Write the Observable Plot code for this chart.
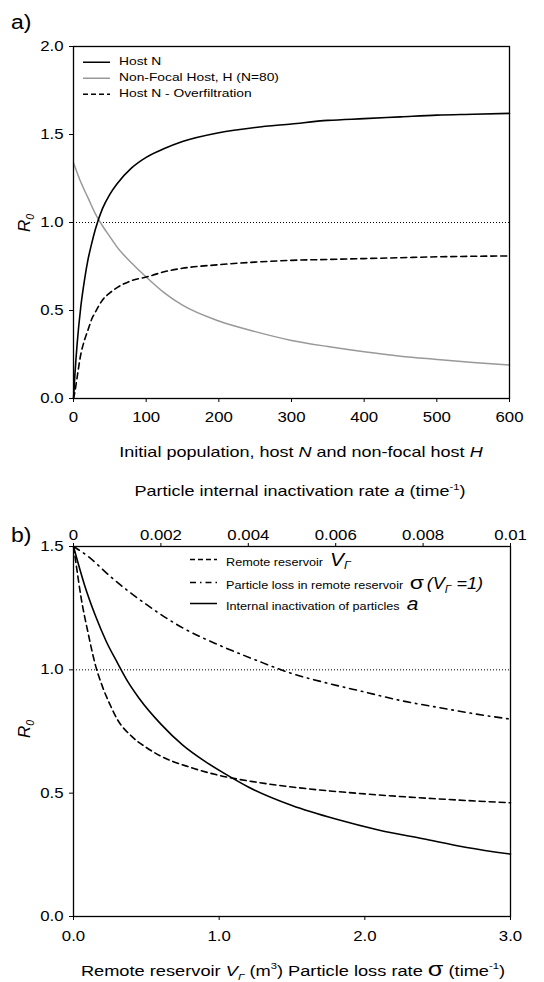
<!DOCTYPE html>
<html><head><meta charset="utf-8">
<script src="https://cdn.jsdelivr.net/npm/d3@7"></script>
<script src="https://cdn.jsdelivr.net/npm/@observablehq/plot@0.6"></script>
<style>
body{margin:0;background:#fff;}
#root{position:relative;width:544px;height:982px;font-family:"Liberation Sans",Arial,sans-serif;color:#000;overflow:hidden;}
.abs{position:absolute;white-space:nowrap;line-height:1;}
.c{transform:translate(-50%,-50%) scaleX(1.2);}
.fig{position:absolute;left:0;}
sup,sub{font-size:0.62em;line-height:0;}
.leg{position:absolute;white-space:nowrap;line-height:1;display:flex;align-items:center;transform:translateY(-50%);font-size:11.5px;}
.leg svg{margin-right:9px;}
.leg span{display:inline-block;transform:scaleX(1.2);transform-origin:left center;}
.leg.b span{transform:scaleX(1.1);}
</style></head><body><div id="root"></div>
<script>
// ---------- Panel a data ----------
const popN = [0, 2, 5, 10, 15, 20, 25, 30, 40, 50, 60, 80, 100, 125, 150, 200, 250, 300, 350, 400, 450, 500, 550, 600];
const hostN = [0, 0.14, 0.31, 0.52, 0.67, 0.79, 0.88, 0.96, 1.08, 1.16, 1.22, 1.31, 1.37, 1.42, 1.46, 1.51, 1.54, 1.56, 1.58, 1.59, 1.60, 1.61, 1.615, 1.62];
const hostNOverfilt = [0, 0.04, 0.12, 0.25, 0.33, 0.39, 0.45, 0.49, 0.56, 0.60, 0.63, 0.67, 0.69, 0.72, 0.74, 0.76, 0.775, 0.785, 0.79, 0.795, 0.80, 0.805, 0.808, 0.81];
const popH = [0, 10, 20, 30, 40, 50, 60, 80, 100, 125, 150, 200, 250, 300, 350, 400, 450, 500, 550, 600];
const nonFocalH = [1.34, 1.23, 1.14, 1.05, 0.98, 0.92, 0.86, 0.77, 0.69, 0.60, 0.53, 0.44, 0.38, 0.33, 0.295, 0.265, 0.24, 0.222, 0.205, 0.19];
const xTicksA = [0, 100, 200, 300, 400, 500, 600];
const yTicksA = [0, 0.5, 1.0, 1.5, 2.0];

// ---------- Panel b data ----------
const volV = [0, 0.02, 0.05, 0.1, 0.15, 0.2, 0.25, 0.3, 0.4, 0.5, 0.6, 0.8, 1.0, 1.25, 1.5, 2.0, 2.5, 3.0];
const remoteV = [1.5, 1.42, 1.30, 1.15, 1.02, 0.93, 0.86, 0.80, 0.73, 0.685, 0.65, 0.605, 0.572, 0.545, 0.525, 0.497, 0.477, 0.461];
const lossSigma = [0, 0.1, 0.25, 0.5, 0.75, 1.0, 1.25, 1.5, 1.75, 2.0, 2.25, 2.5, 2.75, 3.0];
const remoteLoss = [1.5, 1.46, 1.38, 1.265, 1.17, 1.10, 1.04, 0.985, 0.945, 0.91, 0.875, 0.848, 0.822, 0.80];
const inactA = [0, 0.00025, 0.0005, 0.00075, 0.001, 0.00125, 0.0015, 0.002, 0.0025, 0.003, 0.0035, 0.004, 0.005, 0.006, 0.007, 0.008, 0.009, 0.01];
const internalA = [1.5, 1.345, 1.22, 1.115, 1.03, 0.95, 0.885, 0.78, 0.695, 0.63, 0.575, 0.525, 0.45, 0.395, 0.35, 0.315, 0.28, 0.253];
const xTicksBottom = [0, 1, 2, 3];
const xTicksTop = [0, 0.002, 0.004, 0.006, 0.008, 0.01];
const yTicksB = [0, 0.5, 1.0, 1.5];
const threshold = [1];

const zipXY = (xs, ys) => xs.map((x, i) => ({x, y: ys[i]}));
const f1 = d3.format(".1f");
const font = "'Liberation Sans', Arial, sans-serif";
const root = document.getElementById("root");
const STRETCH = 1.2;

function stretch(svg) {
  svg.querySelectorAll("text").forEach(t => {
    const L = t.getComputedTextLength();
    if (L > 0) {
      t.setAttribute("textLength", (L * STRETCH).toFixed(2));
      t.setAttribute("lengthAdjust", "spacingAndGlyphs");
    }
  });
}
function place(el, top) {
  const w = document.createElement("div");
  w.className = "fig"; w.style.top = top + "px";
  w.appendChild(el); root.appendChild(w);
  stretch(el);
}
function html(s, cls, style) {
  const d = document.createElement("div");
  d.className = cls; d.setAttribute("style", style); d.innerHTML = s;
  root.appendChild(d); return d;
}
const baseStyle = {fontFamily: font, fontSize: "14px", background: "transparent", color: "#000", overflow: "visible"};

// ---------- Panel a ----------
const figA = Plot.plot({
  width: 544, height: 440,
  marginLeft: 73, marginRight: 35, marginTop: 46, marginBottom: 42,
  style: baseStyle,
  x: {domain: [0, 600], ticks: xTicksA, tickSize: 4, tickPadding: 10, label: null},
  y: {domain: [0, 2], ticks: yTicksA, tickFormat: f1, tickSize: 4, tickPadding: 6, label: null},
  marks: [
    Plot.ruleY(threshold, {stroke: "#000", strokeWidth: 1, strokeDasharray: "1,2"}),
    Plot.line(zipXY(popH, nonFocalH), {x: "x", y: "y", stroke: "#999", strokeWidth: 1.5, curve: "monotone-x"}),
    Plot.line(zipXY(popN, hostNOverfilt), {x: "x", y: "y", stroke: "#000", strokeWidth: 1.6, strokeDasharray: "6,4", curve: "monotone-x"}),
    Plot.line(zipXY(popN, hostN), {x: "x", y: "y", stroke: "#000", strokeWidth: 1.6, curve: "monotone-x"}),
    Plot.frame({stroke: "#000", strokeWidth: 1.3})
  ]
});
place(figA, 0);

// ---------- Panel b (bottom axis: V and sigma) ----------
const bOpts = {width: 544, height: 470, marginLeft: 73, marginRight: 34, marginTop: 46, marginBottom: 54, style: baseStyle};
const figB = Plot.plot({
  ...bOpts,
  x: {domain: [0, 3], ticks: xTicksBottom, tickFormat: f1, tickSize: 4, tickPadding: 11, label: null},
  y: {domain: [0, 1.5], ticks: yTicksB, tickFormat: f1, tickSize: 4, tickPadding: 6, label: null},
  marks: [
    Plot.ruleY(threshold, {stroke: "#000", strokeWidth: 1, strokeDasharray: "1,2"}),
    Plot.line(zipXY(lossSigma, remoteLoss), {x: "x", y: "y", stroke: "#000", strokeWidth: 1.6, strokeDasharray: "7,5,1.5,5", curve: "monotone-x"}),
    Plot.line(zipXY(volV, remoteV), {x: "x", y: "y", stroke: "#000", strokeWidth: 1.6, strokeDasharray: "6,4", curve: "monotone-x"}),
    Plot.frame({stroke: "#000", strokeWidth: 1.3})
  ]
});
place(figB, 500);

// ---------- Panel b overlay (top axis: a) ----------
const figB2 = Plot.plot({
  ...bOpts,
  x: {domain: [0, 0.01], axis: "top", ticks: xTicksTop, tickFormat: d => d === 0 ? "0" : String(+d.toFixed(3)), tickSize: 4, tickPadding: 3, label: null},
  y: {domain: [0, 1.5], axis: null},
  marks: [
    Plot.line(zipXY(inactA, internalA), {x: "x", y: "y", stroke: "#000", strokeWidth: 1.6, curve: "monotone-x"})
  ]
});
place(figB2, 500);

// ---------- Texts ----------
html("a)", "abs", "left:11px;top:12px;font-size:20px;transform:scaleX(1.15);transform-origin:left top;");
html("b)", "abs", "left:11px;top:525px;font-size:20px;transform:scaleX(1.15);transform-origin:left top;");
html("<i>R</i><sub><i>0</i></sub>", "abs", "left:24px;top:223px;font-size:17px;transform:translate(-50%,-50%) rotate(-90deg);");
html("<i>R</i><sub><i>0</i></sub>", "abs", "left:24px;top:729px;font-size:17px;transform:translate(-50%,-50%) rotate(-90deg);");
html("Initial population, host <i>N</i> and non-focal host <i>H</i>", "abs c", "left:301px;top:451px;font-size:15px;");
html("Particle internal inactivation rate <i>a</i> (time<sup>-1</sup>)", "abs c", "left:300px;top:490px;font-size:15px;");
html("Remote reservoir <i>V</i><sub><i>Γ</i></sub> (m<sup>3</sup>) Particle loss rate <span style='font-size:21px'>σ</span> (time<sup>-1</sup>)", "abs c", "left:293px;top:968px;font-size:15.2px;");

// ---------- Legends ----------
function sample(dash, color) {
  return `<svg width="27" height="6"><line x1="0" x2="27" y1="3" y2="3" stroke="${color}" stroke-width="1.6" ${dash ? `stroke-dasharray="${dash}"` : ""}/></svg>`;
}
function legRow(x, y, dash, color, label, cls) {
  const d = document.createElement("div");
  d.className = "leg" + (cls ? " " + cls : ""); d.style.left = x + "px"; d.style.top = y + "px";
  d.innerHTML = sample(dash, color) + `<span>${label}</span>`;
  root.appendChild(d);
}
legRow(83, 62, null, "#000", "Host N");
legRow(83, 78, null, "#999", "Non-Focal Host, H (N=80)");
legRow(83, 94, "5,3", "#000", "Host N - Overfiltration");

legRow(190, 559, "5,3", "#000", "Remote reservoir&nbsp; <i style='font-size:19px'>V</i><sub style='font-size:11px'><i>Γ</i></sub>", "b");
legRow(190, 582, "6,4,1.5,4", "#000", "Particle loss in remote reservoir&nbsp; <span style='font-size:19px'>σ</span> <i style='font-size:16.5px'>(V<sub style='font-size:10.5px'>Γ</sub> =1)</i>", "b");
legRow(190, 603, null, "#000", "Internal inactivation of particles&nbsp; <i style='font-size:19px'>a</i>", "b");
</script></body></html>
